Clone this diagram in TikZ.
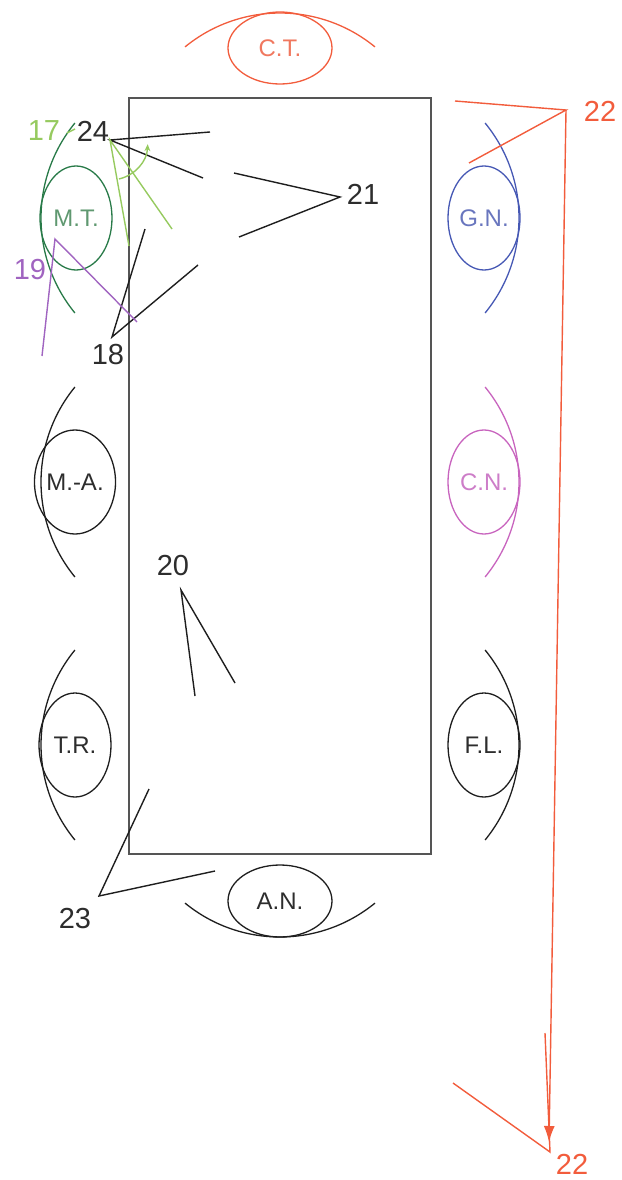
\documentclass[tikz,border=0pt]{standalone}
\usepackage{fontspec}
\setmainfont{Liberation Sans}
\usetikzlibrary{shapes.geometric,arrows.meta}
\definecolor{ink}{RGB}{30,30,30}
\definecolor{inktext}{RGB}{45,45,45}
\definecolor{rectgray}{RGB}{85,85,85}
\definecolor{ctred}{RGB}{242,92,60}
\definecolor{cttext}{RGB}{240,120,95}
\definecolor{gnblue}{RGB}{70,88,180}
\definecolor{gntext}{RGB}{105,118,190}
\definecolor{cnmag}{RGB}{200,100,190}
\definecolor{cntext}{RGB}{205,125,200}
\definecolor{mtgreen}{RGB}{40,122,72}
\definecolor{mttext}{RGB}{95,152,112}
\definecolor{lgreen}{RGB}{150,202,95}
\definecolor{purp}{RGB}{160,100,192}
\begin{document}
\begin{tikzpicture}[x=1pt,y=-1pt,
  seat/.style={ellipse, draw=ink, text=inktext, line width=1.3pt, inner sep=0pt,
    font=\fontsize{24}{24}\selectfont},
  vseat/.style={seat, minimum width=72pt, minimum height=104pt},
  hseat/.style={seat, minimum width=104pt, minimum height=72pt},
  seatarc/.style={line width=1.3pt},
  num/.style={inner sep=0pt, text=inktext, font=\fontsize{29}{29}\selectfont},
  lead/.style={line width=1.4pt, draw=ink}]
\useasboundingbox (0,0) rectangle (621,1180);

% table
\draw[line width=1.7pt, rectgray] (129,98) rectangle (431,854);

% seats
\node[vseat, draw=mtgreen, text=mttext] (mt) at (76,218) {M.T.};
\node[vseat] (ma) at (75,482) {M.-A.};
\node[vseat] (tr) at (75,745) {T.R.};
\node[vseat, draw=gnblue, text=gntext] (gn) at (484,218) {G.N.};
\node[vseat, draw=cnmag, text=cntext] (cn) at (484,482) {C.N.};
\node[vseat] (fl) at (484,745) {F.L.};
\node[hseat, draw=ctred, text=cttext] (ct) at (280,48) {C.T.};
\node[hseat] (an) at (280,901) {A.N.};

% arcs around seats
\draw[seatarc, mtgreen] ([shift={(191,218)}]140.7:150) arc[start angle=140.7, end angle=219.3, radius=150];
\draw[seatarc, ink] ([shift={(191,482)}]140.7:150) arc[start angle=140.7, end angle=219.3, radius=150];
\draw[seatarc, ink] ([shift={(191,745)}]140.7:150) arc[start angle=140.7, end angle=219.3, radius=150];
\draw[seatarc, gnblue] ([shift={(369,218)}]-39.3:150) arc[start angle=-39.3, end angle=39.3, radius=150];
\draw[seatarc, cnmag] ([shift={(369,482)}]-39.3:150) arc[start angle=-39.3, end angle=39.3, radius=150];
\draw[seatarc, ink] ([shift={(369,745)}]-39.3:150) arc[start angle=-39.3, end angle=39.3, radius=150];
\draw[seatarc, ctred] ([shift={(280,163)}]230.7:150) arc[start angle=230.7, end angle=309.3, radius=150];
\draw[seatarc, ink] ([shift={(280,787)}]50.7:150) arc[start angle=50.7, end angle=129.3, radius=150];

% labels
\node[num, text=lgreen] (l17) at (44,131) {17};
\node[num] (l24) at (93,131) {24};
\node[num] (l21) at (363,194) {21};
\node[num] (l18) at (108,355) {18};
\node[num, text=purp] (l19) at (30,270) {19};
\node[num] (l20) at (173,566) {20};
\node[num] (l23) at (75,919) {23};
\node[num, text=ctred] (l22a) at (600,111) {22};
\node[num, text=ctred] (l22b) at (572,1164) {22};

% apexes and ends of leader lines
\coordinate (a17) at (67,133);  \coordinate (e17) at (75,129);
\coordinate (a24) at (110,140);
\coordinate (e24a) at (210,132); \coordinate (e24b) at (203,178);
\coordinate (g24a) at (129,246); \coordinate (g24b) at (172,229);
\coordinate (a21) at (340,197);
\coordinate (e21a) at (234,173); \coordinate (e21b) at (239,237);
\coordinate (a18) at (112,337);
\coordinate (e18a) at (145,229); \coordinate (e18b) at (198,265);
\coordinate (a19) at (55,239);
\coordinate (e19a) at (42,356); \coordinate (e19b) at (137,322);
\coordinate (a20) at (181,590);
\coordinate (e20a) at (195,696); \coordinate (e20b) at (235,683);
\coordinate (a23) at (99,896);
\coordinate (e23a) at (149,789); \coordinate (e23b) at (215,871);
\coordinate (a22a) at (566,110);
\coordinate (e22a) at (455,101); \coordinate (e22b) at (469,163);
\coordinate (tip22) at (549,1142);
\coordinate (a22b) at (550,1152);
\coordinate (e22c) at (453,1083); \coordinate (e22d) at (545,1033);

% 17
\draw[lead, draw=lgreen] (a17) -- (e17);
% 24
\draw[lead] (e24a) -- (a24) -- (e24b);
\draw[lead, draw=lgreen] (g24a) -- (a24) -- (g24b);
\draw[lead, draw=lgreen, -{Stealth[length=7pt,width=6pt]}]
  ([shift={(a24)}]77:40) arc[start angle=77, end angle=2, radius=37];
% 21
\draw[lead] (e21a) -- (a21) -- (e21b);
% 18
\draw[lead] (e18a) -- (a18) -- (e18b);
% 19
\draw[lead, draw=purp] (e19a) -- (a19) -- (e19b);
% 20
\draw[lead] (e20a) -- (a20) -- (e20b);
% 23
\draw[lead] (e23a) -- (a23) -- (e23b);
% 22
\draw[lead, draw=ctred] (e22a) -- (a22a) -- (e22b);
\draw[lead, draw=ctred, -{Latex[length=16pt,width=11pt]}] (a22a) -- (tip22);
\draw[lead, draw=ctred] (e22c) -- (a22b) -- (e22d);
\end{tikzpicture}
\end{document}
